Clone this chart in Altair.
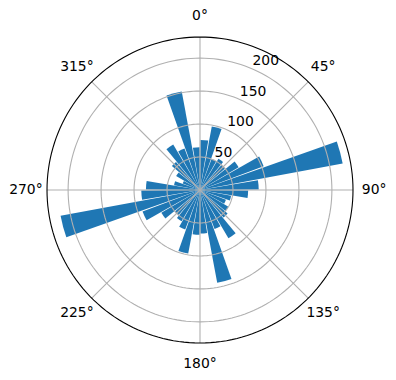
import math
import altair as alt
import pandas as pd

# --- data ---
directions = [5, 15, 25, 35, 45, 55, 65, 75, 85, 95, 105, 115, 125, 135, 145, 155, 165, 175,
              185, 195, 205, 215, 225, 235, 245, 255, 265, 275, 285, 295, 305, 315, 325, 335, 345, 355]
counts = [76, 98, 50, 55, 50, 68, 103, 220, 89, 73, 48, 42, 50, 55, 85, 63, 143, 66,
          68, 98, 64, 55, 50, 68, 93, 215, 89, 82, 40, 28, 42, 56, 80, 67, 152, 65]
ring_values = [50, 100, 150, 200]
ring_labels = ["50", "100", "150", "200"]
r_max = 232
angle_ticks = [0, 45, 90, 135, 180, 225, 270, 315]
angle_labels = ["0°", "45°", "90°", "135°", "180°", "225°", "270°", "315°"]
bar_half_width = 4.5      # degrees
label_r = 264             # radial position of angle labels (data units)
rlabel_angle = 22.5

W, H = 396, 380
CX, CY = 200, 190
R_PX = 153
k = R_PX / r_max

rscale = alt.Scale(type="linear", domain=[0, r_max], range=[0, R_PX])
tscale = alt.Scale(type="linear", domain=[0, 360], range=[0, 2 * math.pi])
xscale = alt.Scale(domain=[-CX / k, (W - CX) / k], range=[0, W], nice=False, zero=False)
yscale = alt.Scale(domain=[-(H - CY) / k, CY / k], range=[H, 0], nice=False, zero=False)

FONT = "DejaVu Sans"
GRID = "#b0b0b0"

bars = pd.DataFrame({"dir": directions, "count": counts})
rings = pd.DataFrame({"r": ring_values, "label": ring_labels})
spokes = pd.DataFrame({"a": angle_ticks, "label": angle_labels})

# circle outlines: each ring value paired with sweep steps (structure only)
steps = list(range(0, 361, 2))
circle_rows = [{"r": r, "step": s, "kind": "grid"} for r in ring_values for s in steps]
circle_rows += [{"r": r_max, "step": s, "kind": "outer"} for s in steps]
circles = pd.DataFrame(circle_rows)

bar_layer = alt.Chart(bars).transform_calculate(
    t1=f"datum.dir - {bar_half_width}", t2=f"datum.dir + {bar_half_width}"
).mark_arc(color="#1f77b4").encode(
    theta=alt.Theta("t1:Q", scale=tscale, stack=False),
    theta2="t2:Q",
    radius=alt.Radius("count:Q", scale=rscale),
    x=alt.value(CX), y=alt.value(CY),
)

circ_xy = dict(
    cx="datum.r * sin(datum.step * PI / 180)",
    cy="datum.r * cos(datum.step * PI / 180)",
)

ring_layer = alt.Chart(circles).transform_filter(
    "datum.kind == 'grid'"
).transform_calculate(**circ_xy).mark_line(color=GRID, strokeWidth=1.1).encode(
    x=alt.X("cx:Q", scale=xscale, axis=None),
    y=alt.Y("cy:Q", scale=yscale, axis=None),
    detail="r:N",
    order="step:Q",
)

outer_layer = alt.Chart(circles).transform_filter(
    "datum.kind == 'outer'"
).transform_calculate(**circ_xy).mark_line(color="black", strokeWidth=1.1).encode(
    x=alt.X("cx:Q", scale=xscale, axis=None),
    y=alt.Y("cy:Q", scale=yscale, axis=None),
    order="step:Q",
)

spoke_layer = alt.Chart(spokes).transform_calculate(
    x0="0", y0="0",
    x1=f"{r_max} * sin(datum.a * PI / 180)",
    y1=f"{r_max} * cos(datum.a * PI / 180)",
).mark_rule(color=GRID, strokeWidth=1.1).encode(
    x=alt.X("x0:Q", scale=xscale, axis=None),
    y=alt.Y("y0:Q", scale=yscale, axis=None),
    x2="x1:Q", y2="y1:Q",
)

angle_text = alt.Chart(spokes).transform_calculate(
    lx=f"{label_r} * sin(datum.a * PI / 180)",
    ly=f"{label_r} * cos(datum.a * PI / 180)",
).mark_text(font=FONT, fontSize=13.9, color="black", align="center", baseline="middle").encode(
    x=alt.X("lx:Q", scale=xscale, axis=None),
    y=alt.Y("ly:Q", scale=yscale, axis=None),
    text="label:N",
)

r_text = alt.Chart(rings).transform_calculate(
    lx=f"datum.r * sin({rlabel_angle} * PI / 180)",
    ly=f"datum.r * cos({rlabel_angle} * PI / 180)",
).mark_text(font=FONT, fontSize=13.9, color="black", align="left", baseline="alphabetic",
            dx=2, dy=-3).encode(
    x=alt.X("lx:Q", scale=xscale, axis=None),
    y=alt.Y("ly:Q", scale=yscale, axis=None),
    text="label:N",
)

chart = alt.layer(
    bar_layer, ring_layer, spoke_layer, outer_layer, angle_text, r_text
).properties(
    width=W, height=H, padding=0, autosize=alt.AutoSizeParams(type="none"),
    background="white",
).configure_view(stroke=None)

chart.save("out.html", embed_options={"renderer": "svg", "actions": False})
